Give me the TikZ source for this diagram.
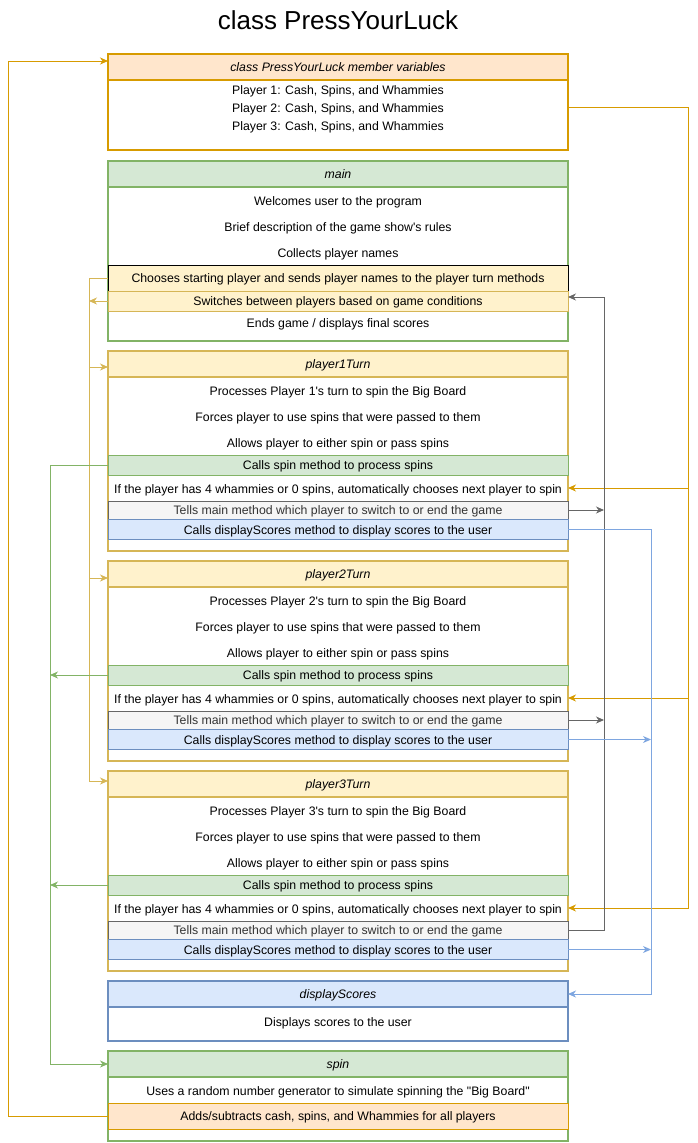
\documentclass[tikz,border=0pt]{standalone}
\usepackage{fontspec}
\setmainfont{Liberation Sans}[Ligatures=TeXOff]
\usepackage{tikz}
\usetikzlibrary{arrows.meta,positioning}

\definecolor{orBd}{HTML}{D79B00}
\definecolor{orFill}{HTML}{FFE6CC}
\definecolor{grBd}{HTML}{82B366}
\definecolor{grFill}{HTML}{D5E8D4}
\definecolor{ylBd}{HTML}{D6B656}
\definecolor{ylFill}{HTML}{FFF2CC}
\definecolor{blBd}{HTML}{6C8EBF}
\definecolor{blFill}{HTML}{DAE8FC}
\definecolor{blLine}{HTML}{7EA6E0}
\definecolor{gyBd}{HTML}{666666}
\definecolor{gyFill}{HTML}{F5F5F5}
\definecolor{gyTxt}{HTML}{333333}

\tikzset{
  classbox/.style={draw, line width=2.5pt, fill=white, minimum width=460pt, inner sep=0pt, outer sep=0pt},
  hdr/.style={draw, line width=2.5pt, minimum width=460pt, minimum height=26pt, inner sep=0pt, outer sep=0pt, text height=9.5pt, text depth=0.5pt, font=\fontsize{12.3}{14}\selectfont\itshape},
  row/.style={minimum width=460pt, inner sep=0pt, outer sep=0pt, text height=10pt, text depth=0pt, font=\fontsize{12.3}{14}\selectfont},
  rowbox/.style={minimum width=460pt, inner sep=0pt, outer sep=0pt, text height=9.5pt, text depth=0.5pt, font=\fontsize{12.3}{14}\selectfont, draw, line width=0.8pt},
  link/.style={line width=0.9pt, -{Stealth[length=8pt,width=7pt,inset=2.5pt]}},
}

\begin{document}
\begin{tikzpicture}[x=1pt,y=-1pt]
\useasboundingbox (0,0) rectangle (698,1143);

% title
\node[font=\fontsize{26}{30}\selectfont] (title) at (338,20) {class PressYourLuck};

% member variables
\node[classbox, draw=orBd, minimum height=96pt] (mem) at (338,102) {};
\node[hdr, draw=orBd, fill=orFill] (memh) at (338,67) {class PressYourLuck member variables};
\node[row] (pl1) at (338,89.5) {Player 1: Cash, Spins, and Whammies};
\node[row] (pl2) at (338,107.5) {Player 2: Cash, Spins, and Whammies};
\node[row] (pl3) at (338,125.5) {Player 3: Cash, Spins, and Whammies};

% main
\node[classbox, draw=grBd, minimum height=180pt] (main) at (338,251) {};
\node[hdr, draw=grBd, fill=grFill] (mainh) at (338,174) {main};
\node[row] (m1) at (338,200) {Welcomes user to the program};
\node[row] (m2) at (338,226) {Brief description of the game show's rules};
\node[row] (m3) at (338,252) {Collects player names};
\node[rowbox, draw=black, fill=ylFill, minimum height=26pt] (choose) at (338,278) {Chooses starting player and sends player names to the player turn methods};
\node[rowbox, draw=ylBd, fill=ylFill, minimum height=20pt] (switch) at (338,301) {Switches between players based on game conditions};
\node[row] (m4) at (338,322) {Ends game / displays final scores};

% player1Turn
\node[classbox, draw=ylBd, minimum height=200pt] (p1) at (338,451) {};
\node[hdr, draw=ylBd, fill=ylFill] (p1h) at (338,364) {player1Turn};
\node[row] (p1a) at (338,390) {Processes Player 1's turn to spin the Big Board};
\node[row] (p1b) at (338,416) {Forces player to use spins that were passed to them};
\node[row] (p1c) at (338,442) {Allows player to either spin or pass spins};
\node[rowbox, draw=grBd, fill=grFill, minimum height=20pt] (call1) at (338,465) {Calls spin method to process spins};
\node[row] (if1) at (338,488) {If the player has 4 whammies or 0 spins, automatically chooses next player to spin};
\node[rowbox, draw=gyBd, fill=gyFill, text=gyTxt, minimum height=18pt] (tell1) at (338,510) {Tells main method which player to switch to or end the game};
\node[rowbox, draw=blBd, fill=blFill, minimum height=20pt] (show1) at (338,529.5) {Calls displayScores method to display scores to the user};

% player2Turn
\node[classbox, draw=ylBd, minimum height=200pt] (p2) at (338,661) {};
\node[hdr, draw=ylBd, fill=ylFill] (p2h) at (338,574) {player2Turn};
\node[row] (p2a) at (338,600) {Processes Player 2's turn to spin the Big Board};
\node[row] (p2b) at (338,626) {Forces player to use spins that were passed to them};
\node[row] (p2c) at (338,652) {Allows player to either spin or pass spins};
\node[rowbox, draw=grBd, fill=grFill, minimum height=20pt] (call2) at (338,675) {Calls spin method to process spins};
\node[row] (if2) at (338,698) {If the player has 4 whammies or 0 spins, automatically chooses next player to spin};
\node[rowbox, draw=gyBd, fill=gyFill, text=gyTxt, minimum height=18pt] (tell2) at (338,720) {Tells main method which player to switch to or end the game};
\node[rowbox, draw=blBd, fill=blFill, minimum height=20pt] (show2) at (338,739.5) {Calls displayScores method to display scores to the user};

% player3Turn
\node[classbox, draw=ylBd, minimum height=200pt] (p3) at (338,871) {};
\node[hdr, draw=ylBd, fill=ylFill] (p3h) at (338,784) {player3Turn};
\node[row] (p3a) at (338,810) {Processes Player 3's turn to spin the Big Board};
\node[row] (p3b) at (338,836) {Forces player to use spins that were passed to them};
\node[row] (p3c) at (338,862) {Allows player to either spin or pass spins};
\node[rowbox, draw=grBd, fill=grFill, minimum height=20pt] (call3) at (338,885) {Calls spin method to process spins};
\node[row] (if3) at (338,908) {If the player has 4 whammies or 0 spins, automatically chooses next player to spin};
\node[rowbox, draw=gyBd, fill=gyFill, text=gyTxt, minimum height=18pt] (tell3) at (338,930) {Tells main method which player to switch to or end the game};
\node[rowbox, draw=blBd, fill=blFill, minimum height=20pt] (show3) at (338,949.5) {Calls displayScores method to display scores to the user};

% displayScores
\node[classbox, draw=blBd, minimum height=60pt] (disp) at (338,1011) {};
\node[hdr, draw=blBd, fill=blFill] (disph) at (338,994) {displayScores};
\node[row] (d1) at (338,1021) {Displays scores to the user};

% spin
\node[classbox, draw=grBd, minimum height=90pt] (spin) at (338,1096) {};
\node[hdr, draw=grBd, fill=grFill] (spinh) at (338,1064) {spin};
\node[row] (s1) at (338,1090) {Uses a random number generator to simulate spinning the "Big Board"};
\node[rowbox, draw=orBd, fill=orFill, minimum height=26pt] (adds) at (338,1116) {Adds/subtracts cash, spins, and Whammies for all players};

% buses
\coordinate (xo) at (8,0);
\coordinate (xs) at (50,0);
\coordinate (xg) at (89,0);
\coordinate (xt) at (604,0);
\coordinate (xd) at (651,0);
\coordinate (xm) at (688,0);

% spin -> member variables
\draw[link, orBd] (adds.west) -- (adds.west -| xo) |- ([yshift=6pt]memh.west);

% member variables -> player turns
\draw[link, orBd] (mem.east |- pl2) -- (pl2 -| xm) |- (if1.east);
\draw[link, orBd] (mem.east |- pl2) -- (pl2 -| xm) |- (if2.east);
\draw[link, orBd] (mem.east |- pl2) -- (pl2 -| xm) |- (if3.east);

% main -> player turns
\draw[link, ylBd] (choose.west) -- (choose.west -| xg) |- ([yshift=-3pt]p1h.west);
\draw[link, ylBd] (choose.west) -- (choose.west -| xg) |- ([yshift=-4pt]p2h.west);
\draw[link, ylBd] (choose.west) -- (choose.west -| xg) |- ([yshift=3pt]p3h.west);
\draw[link, ylBd] (switch.west) -- (switch.west -| xg);

% player turns -> main
\draw[link, gyBd] (tell3.east) -- (tell3.east -| xt) |- ([yshift=4pt]switch.east);
\draw[link, gyBd] (tell1.east) -- (tell1.east -| xt);
\draw[link, gyBd] (tell2.east) -- (tell2.east -| xt);

% player turns -> displayScores
\draw[link, blLine] (show1.east) -- (show1.east -| xd) |- (disph.east);
\draw[link, blLine] (show2.east) -- (show2.east -| xd);
\draw[link, blLine] (show3.east) -- (show3.east -| xd);

% player turns -> spin
\draw[link, grBd] (call1.west) -- (call1.west -| xs) |- (spinh.west);
\draw[link, grBd] (call2.west) -- (call2.west -| xs);
\draw[link, grBd] (call3.west) -- (call3.west -| xs);

\end{tikzpicture}
\end{document}
